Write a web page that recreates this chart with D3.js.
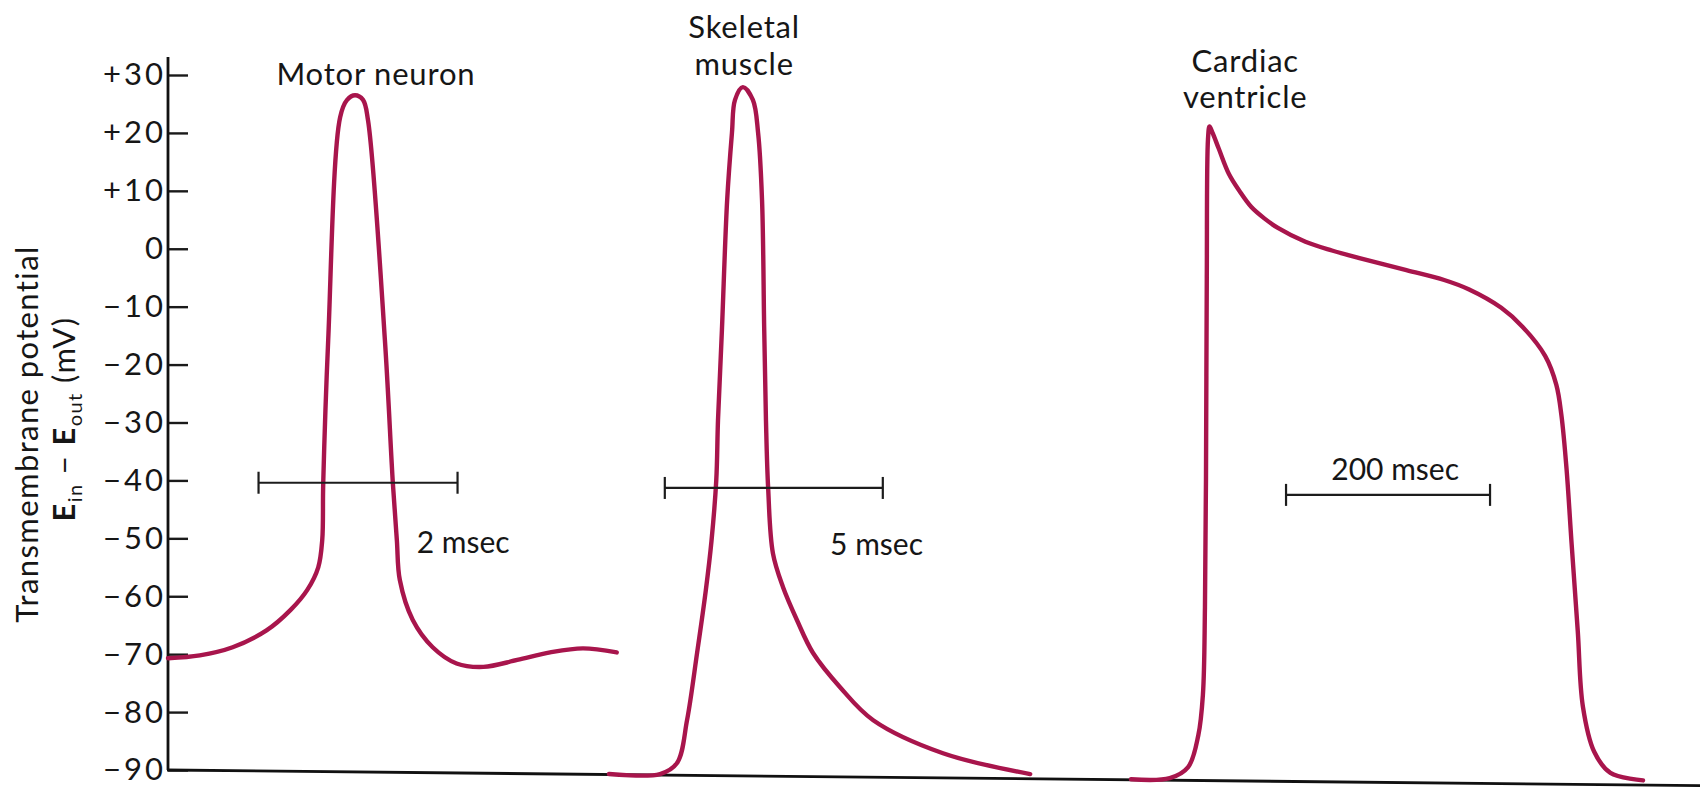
<!DOCTYPE html>
<html><head><meta charset="utf-8">
<script src="https://cdn.jsdelivr.net/npm/d3@7"></script>
<style>
body{margin:0;background:#fff}
text{font-family:Lato,'Open Sans',sans-serif;fill:#161616}
</style>
</head><body>
<svg id="c" width="1706" height="788"></svg>
<script>
// ---------- data (time in msec, potential in mV) ----------
const yTicks = [30, 20, 10, 0, -10, -20, -30, -40, -50, -60, -70, -80, -90];

const motorTime    = [0, 0.32, 0.65, 0.99, 1.23, 1.40, 1.51, 1.55, 1.56, 1.61, 1.73, 1.80, 1.88, 1.96, 2.01, 2.18, 2.26, 2.30, 2.33, 2.46, 2.66, 2.90, 3.17, 3.51, 3.84, 4.17, 4.51];
const motorVoltage = [-70.7, -70.2, -68.8, -65.9, -62.4, -58.9, -55.0, -50.3, -40.5, -15.8, 22.7, 25.7, 26.5, 25.7, 22.2, -15.8, -40.5, -50.3, -57.2, -64.1, -68.8, -71.6, -72.2, -71.0, -69.7, -69.0, -69.7];

const skeletalTime    = [0, 1.17, 1.56, 1.79, 2.02, 2.22, 2.35, 2.46, 2.50, 2.59, 2.71, 2.82, 2.89, 3.07, 3.30, 3.42, 3.51, 3.56, 3.60, 3.65, 3.76, 3.99, 4.31, 4.68, 5.30, 6.06, 7.66, 9.66];
const skeletalVoltage = [-90.7, -90.7, -88.8, -81.4, -69.8, -59.0, -50.5, -40.0, -29.6, -14.0, 8.4, 20.0, 25.7, 27.9, 25.7, 20.0, 8.4, -14.0, -29.6, -41.3, -52.6, -58.4, -64.1, -69.8, -75.7, -81.4, -87.1, -90.7];

const cardiacTime    = [0, 38, 56, 66, 70.5, 72.5, 73.5, 74.3, 75.5, 77, 80, 86, 96, 107, 118, 131, 144, 171, 197, 224, 270, 307, 331, 363, 384, 406, 417, 422, 427, 432, 438, 443, 454, 470, 502];
const cardiacVoltage = [-91.6, -91.4, -89.5, -84.0, -77.0, -62.0, -40.0, -5.0, 19.0, 21.1, 20.0, 17.3, 12.9, 9.8, 7.2, 5.2, 3.6, 1.2, -0.3, -1.6, -3.7, -5.4, -7.0, -10.2, -13.5, -18.5, -23.5, -28.8, -38.0, -51.0, -66.0, -79.0, -86.8, -90.5, -91.8];

const traceNames  = [["Motor neuron"], ["Skeletal", "muscle"], ["Cardiac", "ventricle"]];
const barLengths  = [2, 5, 200];                 // msec
const barLabels   = ["2 msec", "5 msec", "200 msec"];
const baselineEnds = [-90, -92.7];               // mV at left / right end of the drawn base line

// ---------- layout ----------
const svg = d3.select("#c");
const axisX = 168;
const y = d3.scaleLinear().domain([-90, 30]).range([770, 75]);

const panels = [
  {time: motorTime, volt: motorVoltage, x0: 168, pxPerMs: 99.5, tEnd: 4.51,
   label: {t: 2.09, v: [28.3]}, bar: {t0: 0.91, v: -40.4},
   barText: {t: 2.50, v: -52.6, anchor: "start"}},
  {time: skeletalTime, volt: skeletalVoltage, x0: 609, pxPerMs: 43.6, tEnd: 9.66,
   label: {t: 3.10, v: [36.4, 30.0]}, bar: {t0: 1.28, v: -41.3},
   barText: {t: 5.07, v: -52.9, anchor: "start"}},
  {time: cardiacTime, volt: cardiacVoltage, x0: 1131, pxPerMs: 1.02, tEnd: 502,
   label: {t: 112, v: [30.5, 24.3]}, bar: {t0: 152, v: -42.5},
   barText: {t: 259, v: -40.0, anchor: "middle"}}
];

// ---------- axes ----------
const fmt = d => d > 0 ? "+" + d : d < 0 ? "\u2212" + Math.abs(d) : "0";
const gy = svg.append("g").attr("transform", `translate(${axisX},0)`)
  .call(d3.axisLeft(y).tickValues(yTicks).tickSize(-20).tickPadding(2).tickFormat(fmt));
gy.select(".domain").remove();
gy.selectAll(".tick line").attr("stroke", "#1a1a1a").attr("stroke-width", 2.4);
gy.selectAll(".tick text").style("font-size", "31px").style("font-family", "Lato")
  .style("letter-spacing", "3px").attr("fill", "#161616");

svg.append("line").attr("x1", axisX).attr("x2", axisX)
  .attr("y1", y(-90)).attr("y2", y(33.1))
  .attr("stroke", "#111").attr("stroke-width", 2.8);
svg.append("line").attr("x1", axisX - 1).attr("x2", 1700)
  .attr("y1", y(baselineEnds[0])).attr("y2", y(baselineEnds[1]))
  .attr("stroke", "#111").attr("stroke-width", 2.8);

// y axis title
const yl = svg.append("g");
yl.append("text").attr("transform", "translate(38,434) rotate(-90)")
  .attr("text-anchor", "middle").style("font-size", "31px").style("letter-spacing", "1.4px")
  .text("Transmembrane potential");
const t2 = yl.append("text").attr("transform", "translate(75,419) rotate(-90)")
  .attr("text-anchor", "middle").style("font-size", "31px").style("letter-spacing", "1.4px");
t2.append("tspan").style("font-weight", "700").text("E");
t2.append("tspan").attr("dy", 7).style("font-size", "20px").text("in");
t2.append("tspan").attr("dy", -7).text(" \u2212 ");
t2.append("tspan").style("font-weight", "700").text("E");
t2.append("tspan").attr("dy", 7).style("font-size", "20px").text("out");
t2.append("tspan").attr("dy", -7).text(" (mV)");

// ---------- traces ----------
const color = "#a8154c";
panels.forEach((p, i) => {
  const x = d3.scaleLinear().domain([0, p.tEnd]).range([p.x0, p.x0 + p.tEnd * p.pxPerMs]);
  const pts = p.time.map((t, k) => ({t, v: p.volt[k]}));
  const line = d3.line().x(d => x(d.t)).y(d => y(d.v)).curve(d3.curveCatmullRom.alpha(0.5));
  svg.append("path").datum(pts).attr("d", line)
    .attr("fill", "none").attr("stroke", color).attr("stroke-width", 4.4)
    .attr("stroke-linejoin", "round").attr("stroke-linecap", "round");

  // name label
  traceNames[i].forEach((s, j) => {
    svg.append("text").attr("x", x(p.label.t)).attr("y", y(p.label.v[j]))
      .attr("text-anchor", "middle").style("font-size", "31px").style("letter-spacing", "0.8px").text(s);
  });

  // time scale bar
  const bx0 = x(p.bar.t0), bx1 = x(p.bar.t0 + barLengths[i]), by = y(p.bar.v);
  const g = svg.append("g").attr("stroke", "#1c1c1c").attr("stroke-width", 2.2);
  g.append("line").attr("x1", bx0).attr("x2", bx1).attr("y1", by).attr("y2", by);
  g.append("line").attr("x1", bx0).attr("x2", bx0).attr("y1", by - 11).attr("y2", by + 11);
  g.append("line").attr("x1", bx1).attr("x2", bx1).attr("y1", by - 11).attr("y2", by + 11);
  svg.append("text").attr("x", x(p.barText.t)).attr("y", y(p.barText.v))
    .attr("text-anchor", p.barText.anchor).style("font-size", "30px").text(barLabels[i]);
});
</script>
</body></html>
